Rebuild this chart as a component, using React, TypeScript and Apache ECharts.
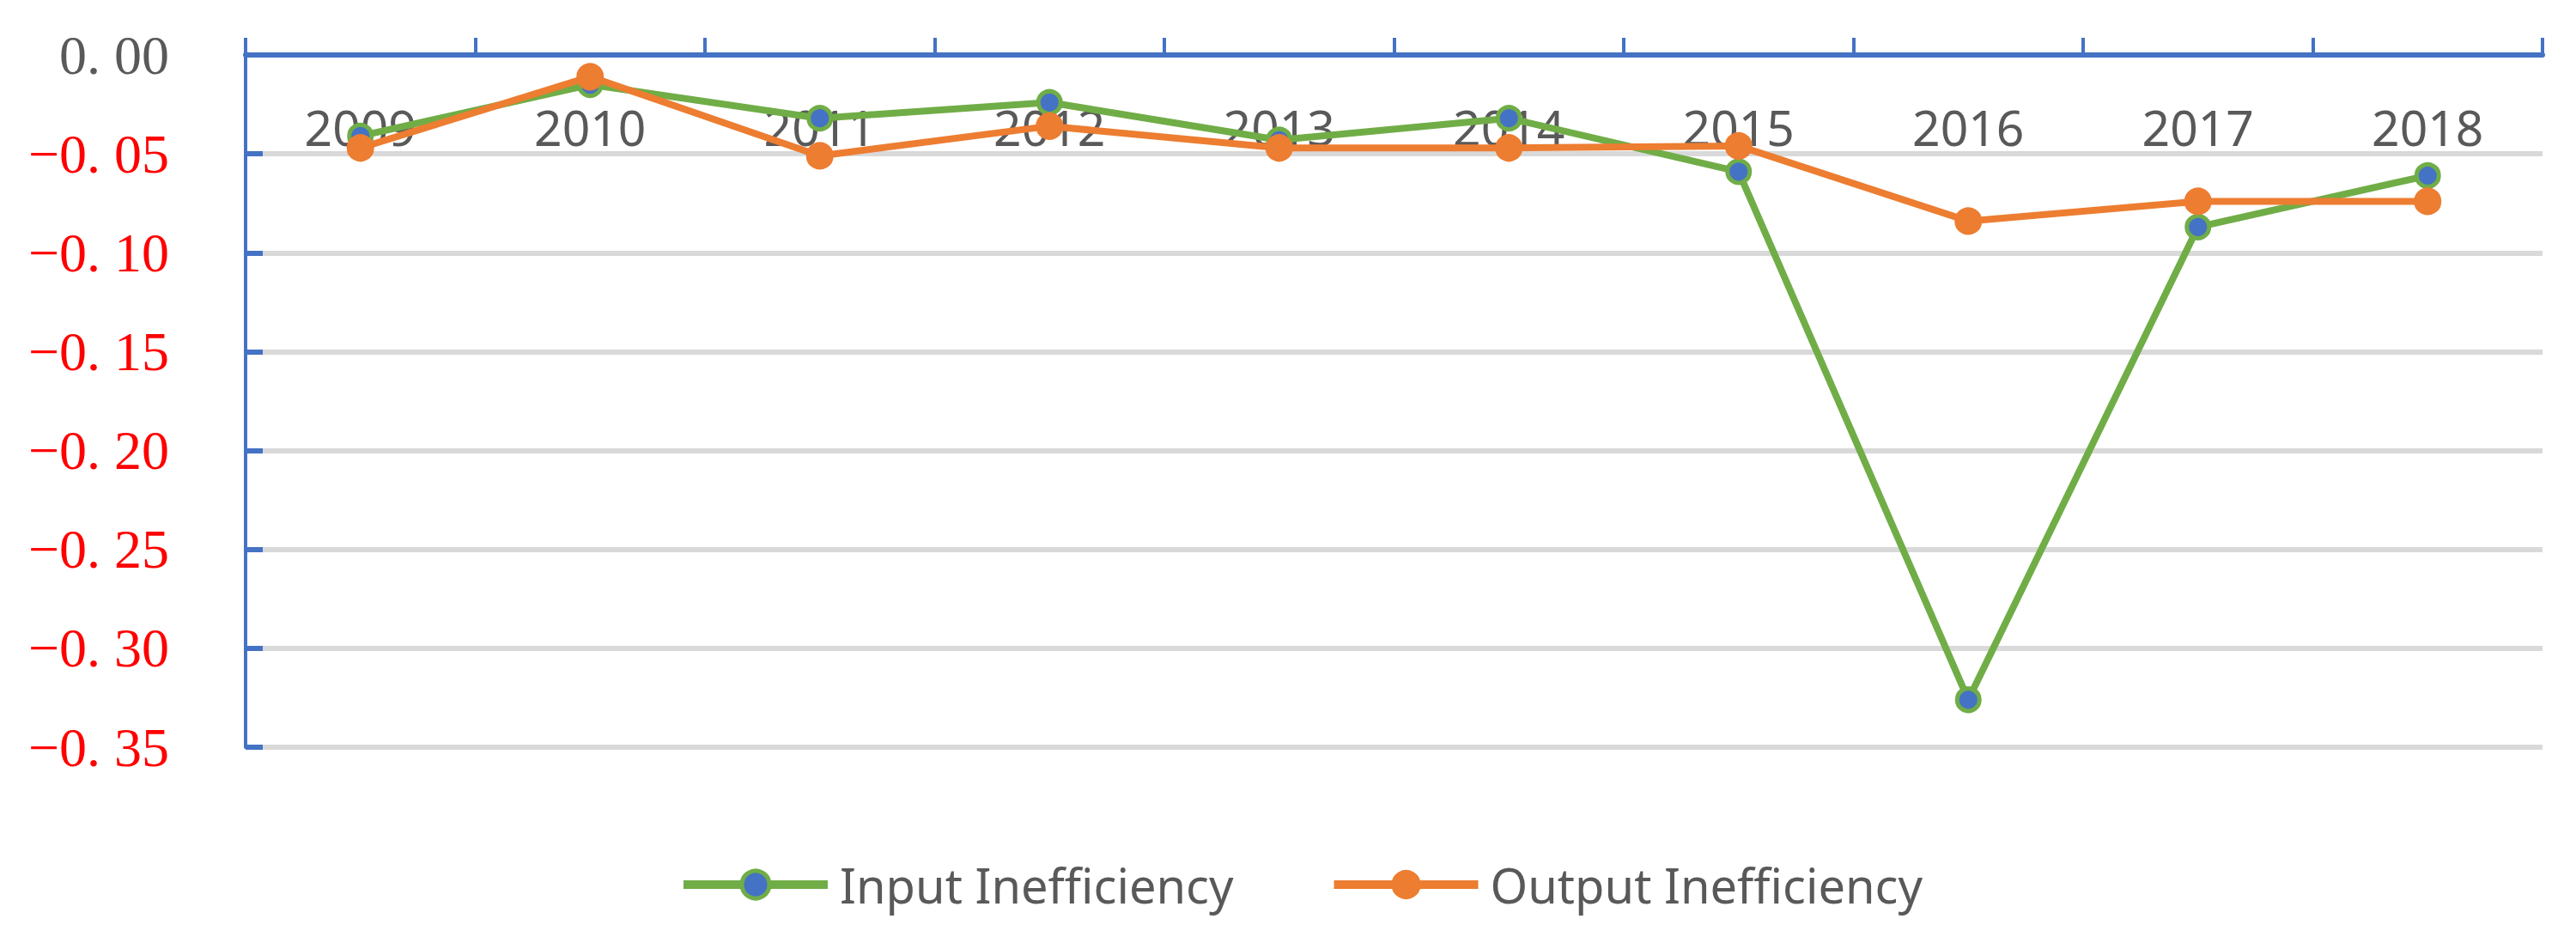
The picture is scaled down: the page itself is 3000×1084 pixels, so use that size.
import React, { useEffect, useRef } from "react";
import * as echarts from "echarts";

const years = ["2009", "2010", "2011", "2012", "2013", "2014", "2015", "2016", "2017", "2018"];
const inputInefficiency = [-0.041, -0.015, -0.032, -0.024, -0.043, -0.032, -0.059, -0.326, -0.087, -0.061];
const outputInefficiency = [-0.047, -0.011, -0.051, -0.036, -0.047, -0.047, -0.046, -0.084, -0.074, -0.074];
const seriesNames = ["Input Inefficiency", "Output Inefficiency"];
const yMin = -0.35;
const yMax = 0;
const yInterval = 0.05;

const BLUE = "#4472C4";
const GREEN = "#70AD47";
const ORANGE = "#ED7D31";
const GRAY_TEXT = "#595959";

export default function App() {
  const ref = useRef<HTMLDivElement>(null);
  useEffect(() => {
    if (!ref.current) return;
    const chart = echarts.init(ref.current, null, { renderer: "svg" });
    chart.setOption({
      animation: false,
      backgroundColor: "#FFFFFF",
      grid: { left: 286, right: 39, top: 64, bottom: 214, containLabel: false },
      legend: {
        data: [
          { name: seriesNames[0], lineStyle: { width: 10, color: GREEN }, itemStyle: { color: BLUE, borderColor: GREEN, borderWidth: 5 } },
          { name: seriesNames[1], lineStyle: { width: 10, color: ORANGE }, itemStyle: { color: ORANGE, borderColor: ORANGE, borderWidth: 2 } },
        ],
        left: 786,
        top: 997,
        itemWidth: 168,
        itemHeight: 40,
        itemGap: 112,
        lineStyle: { width: 10 },
        textStyle: { fontSize: 56, color: GRAY_TEXT, fontFamily: "Noto Sans", padding: [0, 0, 0, 9] },
      },
      xAxis: {
        type: "category",
        data: years,
        position: "top",
        boundaryGap: true,
        axisLine: { show: true, onZero: true, lineStyle: { color: BLUE, width: 6 } },
        axisTick: { show: true, inside: false, length: 20, lineStyle: { color: BLUE, width: 4 } },
        axisLabel: { inside: true, margin: 55, fontSize: 57, color: GRAY_TEXT, fontFamily: "Noto Sans" },
        splitLine: { show: false },
      },
      yAxis: {
        type: "value",
        min: yMin,
        max: yMax,
        interval: yInterval,
        axisLine: { show: true, lineStyle: { color: BLUE, width: 4 } },
        axisTick: { show: true, inside: true, length: 20, lineStyle: { color: BLUE, width: 6 } },
        splitLine: { show: true, lineStyle: { color: "#D9D9D9", width: 6 } },
        axisLabel: {
          margin: 89,
          formatter: (v: number) => {
            const s = Math.abs(v).toFixed(2).replace(".", ". ");
            if (Math.abs(v) < 1e-9) return "{g|0. 00}";
            return "{r|\u2212" + s + "}";
          },
          rich: {
            g: { fontSize: 64, color: GRAY_TEXT, fontFamily: "Liberation Serif" },
            r: { fontSize: 64, color: "#FF0000", fontFamily: "Liberation Serif" },
          },
        },
      },
      series: [
        {
          name: seriesNames[0],
          type: "line",
          data: inputInefficiency,
          symbol: "circle",
          symbolSize: 26,
          lineStyle: { color: GREEN, width: 8 },
          itemStyle: { color: BLUE, borderColor: GREEN, borderWidth: 5 },
          z: 2,
        },
        {
          name: seriesNames[1],
          type: "line",
          data: outputInefficiency,
          symbol: "circle",
          symbolSize: 30,
          lineStyle: { color: ORANGE, width: 8 },
          itemStyle: { color: ORANGE, borderColor: ORANGE, borderWidth: 2 },
          z: 3,
        },
      ],
    });
    return () => chart.dispose();
  }, []);
  return (
    <div
      ref={ref}
      style={{ position: "fixed", left: 0, top: 0, width: 3000, height: 1084, background: "#fff" }}
    />
  );
}
